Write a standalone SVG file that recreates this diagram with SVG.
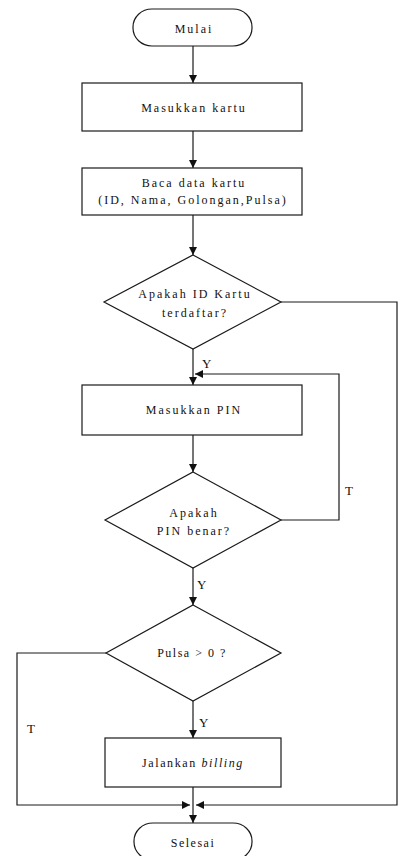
<svg xmlns="http://www.w3.org/2000/svg" width="406" height="856" viewBox="0 0 406 856">
<defs>
<marker id="ah" viewBox="0 0 10 10" refX="10" refY="5" markerWidth="8" markerHeight="8" markerUnits="userSpaceOnUse" orient="auto">
<path d="M0,0 L10,5 L0,10 z" fill="#111"/>
</marker>
<style>
.s{fill:#fff;stroke:#1a1a1a;stroke-width:1.2}
.c{fill:none;stroke:#1a1a1a;stroke-width:1.2}
.t{font-family:"Liberation Serif","Times New Roman",serif;font-size:12px;fill:#111;text-anchor:middle;letter-spacing:2px}
.l{font-family:"Liberation Serif","Times New Roman",serif;font-size:13px;fill:#111}
</style>
</defs>
<rect width="406" height="856" fill="#fff"/>
<g id="connectors">
<line class="c" x1="193" y1="46" x2="193" y2="83" marker-end="url(#ah)"/>
<line class="c" x1="193" y1="131" x2="193" y2="168" marker-end="url(#ah)"/>
<line class="c" x1="193" y1="215" x2="193" y2="255" marker-end="url(#ah)"/>
<line class="c" x1="193" y1="349" x2="193" y2="385" marker-end="url(#ah)"/>
<polyline class="c" points="281,302 397,302 397,805 196,805" marker-end="url(#ah)"/>
<line class="c" x1="193" y1="435" x2="193" y2="472" marker-end="url(#ah)"/>
<polyline class="c" points="281,520 339,520 339,374 195,374" marker-end="url(#ah)"/>
<line class="c" x1="193" y1="568" x2="193" y2="605" marker-end="url(#ah)"/>
<polyline class="c" points="106,653 17,653 17,805 190,805" marker-end="url(#ah)"/>
<line class="c" x1="193" y1="701" x2="193" y2="738" marker-end="url(#ah)"/>
<line class="c" x1="193" y1="787" x2="193" y2="823" marker-end="url(#ah)"/>
<text class="l" x="202" y="368">Y</text>
<text class="l" x="345" y="495">T</text>
<text class="l" x="197" y="589">Y</text>
<text class="l" x="199" y="727">Y</text>
<text class="l" x="27" y="733">T</text>
</g>
<g id="mulai">
<rect class="s" x="133" y="9" width="119" height="37" rx="19" ry="18"/>
<text class="t" x="194" y="33">Mulai</text>
</g>
<g id="masukkan-kartu">
<rect class="s" x="82" y="83" width="220" height="48"/>
<text class="t" x="194" y="112">Masukkan kartu</text>
</g>
<g id="baca-data">
<rect class="s" x="82" y="168" width="220" height="47"/>
<text class="t" x="194" y="187">Baca data kartu</text>
<text class="t" x="193" y="204">(ID, Nama, Golongan,Pulsa)</text>
</g>
<g id="cek-id">
<polygon class="s" points="193,255 281,302 193,349 104,302"/>
<text class="t" x="195" y="298">Apakah ID Kartu</text>
<text class="t" x="195" y="317">terdaftar?</text>
</g>
<g id="masukkan-pin">
<rect class="s" x="82" y="385" width="220" height="50"/>
<text class="t" x="194" y="414">Masukkan PIN</text>
</g>
<g id="cek-pin">
<polygon class="s" points="193,472 281,520 193,568 105,520"/>
<text class="t" x="194" y="517">Apakah</text>
<text class="t" x="194" y="535">PIN benar?</text>
</g>
<g id="cek-pulsa">
<polygon class="s" points="193,605 281,653 193,701 106,653"/>
<text class="t" x="192" y="657" style="letter-spacing:1.5px">Pulsa &gt; 0 ?</text>
</g>
<g id="billing">
<rect class="s" x="105" y="738" width="176" height="49"/>
<text class="t" x="193" y="767" style="letter-spacing:1.6px">Jalankan <tspan font-style="italic">billing</tspan></text>
</g>
<g id="selesai">
<rect class="s" x="134" y="823" width="118" height="37" rx="19" ry="18"/>
<text class="t" x="193" y="847" style="letter-spacing:1.5px">Selesai</text>
</g>
</svg>
